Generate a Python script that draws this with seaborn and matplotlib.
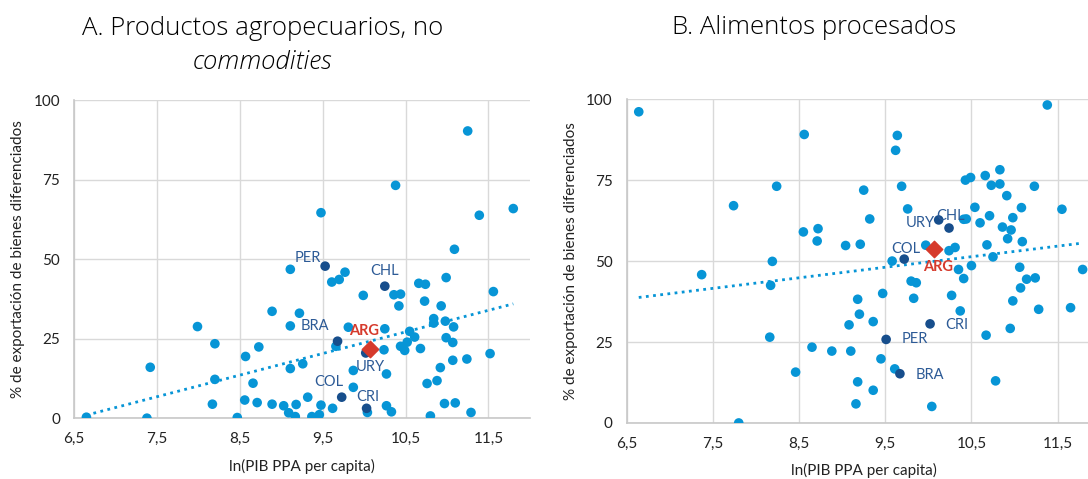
import numpy as np
import pandas as pd
import matplotlib
matplotlib.use("Agg")
import matplotlib.pyplot as plt
import seaborn as sns

# -----------------------------
# Data
# -----------------------------
# Panel A: productos agropecuarios, no commodities
a_x = [6.65, 7.38, 7.42, 7.99, 8.20, 8.20, 8.17, 8.47, 8.57, 8.66, 8.73, 8.56, 8.71,
       8.89, 8.89, 9.03, 9.11, 9.11, 9.11, 9.09, 9.17, 9.18, 9.22, 9.26, 9.32, 9.37,
       9.46, 9.48, 9.48, 9.62, 9.61, 9.70, 9.77, 9.66, 9.81, 9.87, 9.87, 9.99, 10.04,
       10.24, 10.25, 10.27, 10.27, 10.33, 10.36, 10.38, 10.42, 10.44, 10.44, 10.49,
       10.52, 10.55, 10.61, 10.66, 10.68, 10.73, 10.74, 10.76, 10.80, 10.84, 10.84,
       10.88, 10.92, 10.93, 10.97, 10.98, 10.99, 10.99, 11.07, 11.07, 11.08, 11.09,
       11.10, 11.24, 11.25, 11.29, 11.39, 11.52, 11.56, 11.80]
a_y = [0.3, 0.0, 16.0, 28.8, 23.4, 12.2, 4.4, 0.2, 19.4, 11.0, 22.4, 5.7, 4.9,
       33.6, 4.4, 3.9, 29.0, 46.8, 15.6, 1.7, 0.5, 4.3, 33.0, 17.1, 6.6, 0.5,
       1.1, 4.1, 64.6, 3.1, 42.8, 43.6, 45.9, 22.6, 28.6, 15.0, 9.7, 38.6, 1.8,
       21.5, 28.1, 13.9, 3.9, 2.0, 38.8, 73.2, 35.3, 39.0, 22.6, 21.3,
       23.9, 27.3, 25.5, 42.4, 21.9, 36.8, 42.1, 10.9, 0.7, 31.3, 29.9,
       11.8, 15.9, 35.3, 4.6, 30.5, 44.2, 25.3, 23.8, 18.2, 28.7, 53.1,
       4.8, 18.6, 90.3, 1.8, 63.8, 20.3, 39.8, 65.9]
a_lab = ["PER", "CHL", "BRA", "URY", "COL", "CRI"]
a_lab_x = [9.53, 10.25, 9.68, 10.02, 9.73, 10.03]
a_lab_y = [47.8, 41.5, 24.2, 20.5, 6.6, 3.1]
a_arg = (10.07, 21.6)

# Panel B: alimentos procesados
b_x = [6.64, 7.37, 7.74, 7.80, 8.19, 8.17, 8.16, 8.24, 8.46, 8.55, 8.56, 8.65, 8.71,
       8.72, 8.88, 9.04, 9.08, 9.10, 9.16, 9.18, 9.18, 9.20, 9.21, 9.25, 9.32, 9.36,
       9.36, 9.45, 9.47, 9.58, 9.61, 9.62, 9.64, 9.69, 9.76, 9.80, 9.86, 9.83, 9.97,
       10.04, 10.24, 10.27, 10.31, 10.35, 10.37, 10.41, 10.41, 10.44, 10.43, 10.49,
       10.50, 10.54, 10.60, 10.66, 10.67, 10.68, 10.71, 10.73, 10.75, 10.78, 10.83,
       10.83, 10.86, 10.91, 10.92, 10.95, 10.96, 10.98, 10.98, 11.06, 11.07, 11.08,
       11.09, 11.14, 11.23, 11.24, 11.28, 11.38, 11.55, 11.65, 11.79]
b_y = [96.1, 45.8, 67.1, 0.0, 49.9, 42.5, 26.5, 73.1, 15.7, 59.0, 89.1, 23.4, 56.2,
       60.0, 22.2, 54.8, 30.3, 22.2, 5.9, 12.7, 38.2, 33.6, 55.2, 71.9, 63.0, 31.3,
       10.1, 19.8, 40.0, 50.0, 16.7, 84.2, 88.8, 73.1, 66.1, 43.8, 43.3, 38.5, 54.9,
       5.1, 53.2, 39.4, 54.2, 47.4, 34.6, 44.6, 62.9, 63.0, 75.0, 75.8,
       48.6, 66.6, 61.8, 76.4, 27.1, 55.0, 64.0, 73.4, 51.3, 13.0, 78.2,
       73.8, 60.5, 70.2, 56.9, 29.2, 59.6, 63.4, 37.7, 48.1, 41.7, 66.5,
       56.0, 44.4, 73.1, 44.8, 35.1, 98.2, 66.0, 35.6, 47.4]
b_lab = ["URY", "CHL", "COL", "CRI", "PER", "BRA"]
b_lab_x = [10.12, 10.24, 9.72, 10.02, 9.51, 9.67]
b_lab_y = [62.7, 60.2, 50.6, 30.6, 25.8, 15.2]
b_arg = (10.07, 53.6)

x_ticks = [6.5, 7.5, 8.5, 9.5, 10.5, 11.5]
x_tick_labels = ["6,5", "7,5", "8,5", "9,5", "10,5", "11,5"]
y_ticks = [0, 25, 50, 75, 100]

# label offsets in points (dx, dy, ha)
a_off = {"PER": (-3, 6, "right"), "CHL": (0, 11, "center"), "BRA": (-6, 11, "right"),
         "URY": (3, -10, "center"), "COL": (1, 11, "right"), "CRI": (1, 8, "center")}
a_arg_off = (-4, 13, "center")
b_off = {"URY": (-3, -2, "right"), "CHL": (1, 9, "center"), "COL": (1, 7, "center"),
         "CRI": (11, -1, "left"), "PER": (11, 0, "left"), "BRA": (11, -1, "left")}
b_arg_off = (3, -13, "center")

# -----------------------------
# Style
# -----------------------------
sns.set_style("white")
plt.rcParams["font.family"] = ["Lato", "DejaVu Sans"]

LIGHT = "#0795D6"
DARK = "#174E8C"
TXT = "#2C5A96"
RED = "#D63A2C"
GRID = "#D9D9D9"

fig = plt.figure(figsize=(10.88, 4.79), dpi=100)
ax_a = fig.add_axes([0.068, 0.127, 0.419, 0.664])
ax_b = fig.add_axes([0.576, 0.117, 0.4357, 0.676])


def draw_panel(ax, xs, ys, labs, lx, ly, arg, offs, arg_off):
    df = pd.DataFrame({"x": xs, "y": ys})
    hl = pd.DataFrame({"x": lx, "y": ly, "pais": labs})
    allpts = pd.concat([df, hl[["x", "y"]], pd.DataFrame({"x": [arg[0]], "y": [arg[1]]})])

    # linear trend over all countries (dotted, like the Excel trendline)
    sns.regplot(x="x", y="y", data=allpts, ax=ax, scatter=False, ci=None,
                line_kws={"color": LIGHT, "linestyle": (0, (1, 1.6)), "linewidth": 2.0})
    sns.scatterplot(x="x", y="y", data=df, ax=ax, color=LIGHT, s=48,
                    edgecolor="none", zorder=3)
    sns.scatterplot(x="x", y="y", data=hl, ax=ax, color=DARK, s=48,
                    edgecolor="none", zorder=4)
    ax.scatter([arg[0]], [arg[1]], marker="D", s=70, color=RED, zorder=5)

    for _, r in hl.iterrows():
        dx, dy, ha = offs[r["pais"]]
        ax.annotate(r["pais"], (r["x"], r["y"]), xytext=(dx, dy), textcoords="offset points",
                    ha=ha, va="center", color=TXT, fontsize=10.5, zorder=6)
    dx, dy, ha = arg_off
    ax.annotate("ARG", arg, xytext=(dx, dy), textcoords="offset points", ha=ha,
                va="center", color=RED, fontsize=10.5, fontweight="bold", zorder=6)

    ax.set_xlim(6.5, 12)
    ax.set_ylim(0, 100)
    ax.set_xticks(x_ticks)
    ax.set_xticklabels(x_tick_labels)
    ax.set_yticks(y_ticks)
    ax.grid(True, color=GRID, linewidth=1.0)
    ax.set_axisbelow(True)
    for s in ["top", "right"]:
        ax.spines[s].set_visible(False)
    for s in ["left", "bottom"]:
        ax.spines[s].set_color("#C8C8C8")
        ax.spines[s].set_linewidth(1.2)
    ax.tick_params(axis="both", length=0, labelsize=11, colors="#222222", pad=10)
    ax.set_xlabel("ln(PIB PPA per capita)", fontsize=11, color="#222222", labelpad=9)
    ax.set_ylabel("% de exportación de bienes diferenciados", fontsize=11,
                  color="#222222", labelpad=6)


draw_panel(ax_a, a_x, a_y, a_lab, a_lab_x, a_lab_y, a_arg, a_off, a_arg_off)
draw_panel(ax_b, b_x, b_y, b_lab, b_lab_x, b_lab_y, b_arg, b_off, b_arg_off)

title_font = {"family": ["Open Sans", "Lato", "DejaVu Sans"], "weight": "light",
              "size": 18.5, "color": "#000000"}
fig.text(0.241, 0.94, "A. Productos agropecuarios, no", ha="center", va="center",
         fontdict=title_font)
fig.text(0.241, 0.869, "commodities", ha="center", va="center", fontdict=title_font,
         fontstyle="italic")
fig.text(0.748, 0.943, "B. Alimentos procesados", ha="center", va="center",
         fontdict=title_font)

fig.savefig("out.png", dpi=100)
